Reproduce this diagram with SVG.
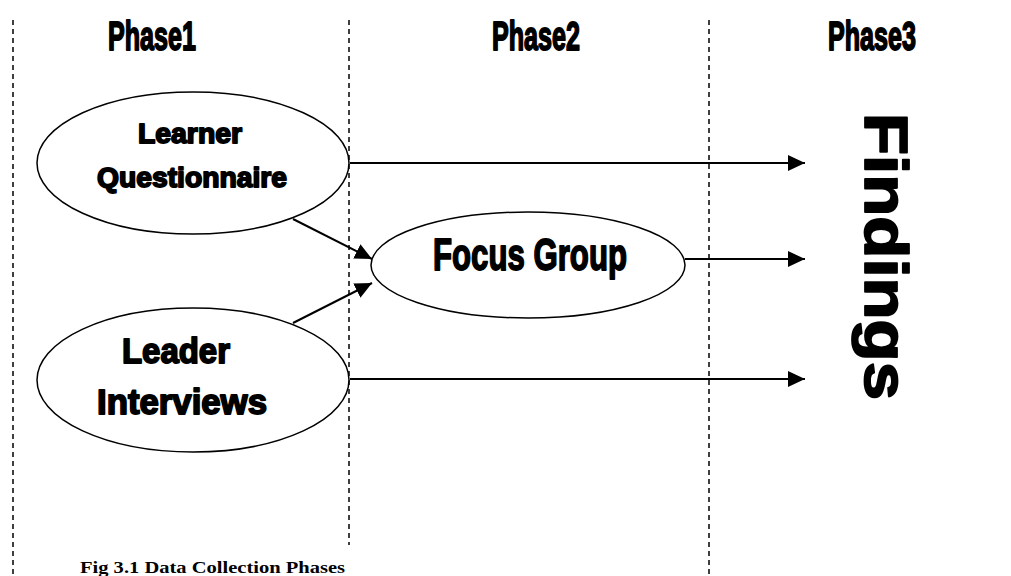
<svg xmlns="http://www.w3.org/2000/svg" width="1011" height="576" viewBox="0 0 1011 576">
  <style>
    .lane { stroke: #000; stroke-width: 1.5; stroke-dasharray: 5 4; fill: none; }
    .oval { fill: #fff; stroke: #000; stroke-width: 1.5; }
    .heavy { font-family: "Liberation Sans", Arial, sans-serif; font-weight: bold; fill: #000; stroke: #000; stroke-width: 1.8; stroke-linejoin: round; }
    .cond { font-family: "Liberation Sans Narrow", "Liberation Sans", Arial, sans-serif; font-weight: bold; fill: #000; stroke: #000; stroke-width: 1.8; stroke-linejoin: round; }
    .link { stroke: #000; stroke-width: 2; fill: none; marker-end: url(#head); }
    .caption { font-family: "Liberation Serif", "Times New Roman", serif; font-weight: bold; font-size: 17px; fill: #000; }
  </style>
  <defs>
    <marker id="head" markerWidth="18" markerHeight="16" refX="17" refY="8" orient="auto" markerUnits="userSpaceOnUse">
      <path d="M0,0 L17,8 L0,16 Z" fill="#000"/>
    </marker>
  </defs>
  <rect width="1011" height="576" fill="#fff"/>

  <!-- phase separators -->
  <g id="lanes">
    <line class="lane" x1="13" y1="20" x2="13" y2="576"/>
    <line class="lane" x1="349" y1="20" x2="349" y2="545"/>
    <line class="lane" x1="709" y1="20" x2="709" y2="576"/>
  </g>

  <!-- phase headings -->
  <g id="phase1"><text class="cond" x="108" y="50" font-size="40" textLength="88" lengthAdjust="spacingAndGlyphs">Phase1</text></g>
  <g id="phase2"><text class="cond" x="492" y="50" font-size="40" textLength="88" lengthAdjust="spacingAndGlyphs">Phase2</text></g>
  <g id="phase3"><text class="cond" x="828" y="50" font-size="40" textLength="88" lengthAdjust="spacingAndGlyphs">Phase3</text></g>

  <!-- connectors -->
  <g id="connectors">
    <line class="link" x1="350" y1="163" x2="805" y2="163"/>
    <line class="link" x1="685" y1="259" x2="805" y2="259"/>
    <line class="link" x1="350" y1="379" x2="805" y2="379"/>
    <line class="link" x1="293" y1="219" x2="372" y2="259"/>
    <line class="link" x1="293" y1="323" x2="372" y2="283"/>
  </g>

  <g id="learner-questionnaire">
    <ellipse class="oval" cx="193" cy="163" rx="156" ry="71"/>
    <text class="heavy" x="190" y="143" font-size="28" text-anchor="middle" textLength="104" lengthAdjust="spacingAndGlyphs">Learner</text>
    <text class="heavy" x="192" y="187" font-size="28" text-anchor="middle" textLength="190" lengthAdjust="spacingAndGlyphs">Questionnaire</text>
  </g>

  <g id="leader-interviews">
    <ellipse class="oval" cx="193" cy="380" rx="156" ry="72"/>
    <text class="heavy" x="176" y="363" font-size="35" text-anchor="middle" textLength="108" lengthAdjust="spacingAndGlyphs">Leader</text>
    <text class="heavy" x="182" y="414" font-size="35" text-anchor="middle" textLength="170" lengthAdjust="spacingAndGlyphs">Interviews</text>
  </g>

  <g id="focus-group">
    <ellipse class="oval" cx="528" cy="265" rx="157" ry="53"/>
    <text class="cond" x="433" y="270" font-size="45" textLength="194" lengthAdjust="spacingAndGlyphs">Focus Group</text>
  </g>

  <g id="findings">
    <text class="heavy" transform="translate(865,113) rotate(90)" x="0" y="0" font-size="62" stroke-width="3" textLength="287" lengthAdjust="spacingAndGlyphs">Findings</text>
  </g>

  <text class="caption" x="80" y="573" textLength="265" lengthAdjust="spacingAndGlyphs">Fig 3.1 Data Collection Phases</text>
</svg>
